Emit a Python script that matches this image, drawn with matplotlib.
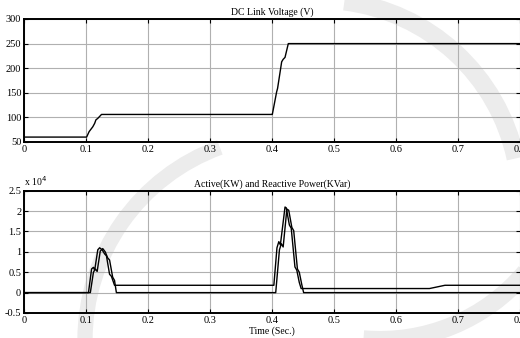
import numpy as np
import matplotlib
matplotlib.use("Agg")
import matplotlib.pyplot as plt
from matplotlib.patches import Arc

plt.rcParams['font.family'] = ['Liberation Serif', 'DejaVu Serif']

# ── data ────────────────────────────────────────────────────────────────────
# DC link voltage (V)
t_vdc = [0.0, 0.101, 0.105, 0.108, 0.111, 0.114, 0.116, 0.119, 0.125, 0.40,
         0.4005, 0.4075, 0.409, 0.4156, 0.418, 0.421, 0.4263, 0.8]
v_dc = [60, 60, 71, 76, 81, 88, 95, 98, 106, 106,
        106, 152, 159, 213, 218, 222, 250, 250]

# Active power (x 1e4)
t_p = [0.0, 0.104, 0.109, 0.112, 0.114, 0.119, 0.122, 0.126, 0.130, 0.133,
       0.138, 0.141, 0.146, 0.403, 0.408, 0.411, 0.4135, 0.421, 0.423, 0.428,
       0.431, 0.437, 0.440, 0.444, 0.447, 0.654, 0.679, 0.8]
p_act = [0.0, 0.0, 0.58, 0.62, 0.55, 1.05, 1.10, 1.05, 0.95, 0.90,
         0.45, 0.40, 0.18, 0.18, 1.10, 1.25, 1.17, 2.10, 2.08, 1.66,
         1.58, 0.63, 0.55, 0.25, 0.10, 0.10, 0.18, 0.18]

# Reactive power (x 1e4)
t_q = [0.0, 0.107, 0.112, 0.115, 0.118, 0.123, 0.127, 0.131, 0.135, 0.138,
       0.143, 0.146, 0.149, 0.406, 0.412, 0.415, 0.418, 0.424, 0.427, 0.432,
       0.435, 0.441, 0.444, 0.448, 0.451, 0.8]
p_react = [0.0, 0.0, 0.50, 0.58, 0.52, 1.02, 1.08, 1.00, 0.85, 0.80,
           0.38, 0.30, 0.0, 0.0, 1.05, 1.20, 1.12, 2.05, 2.02, 1.60,
           1.52, 0.58, 0.50, 0.20, 0.0, 0.0]

x_ticks = [0, 0.1, 0.2, 0.3, 0.4, 0.5, 0.6, 0.7, 0.8]
x_labels = ["0", "0.1", "0.2", "0.3", "0.4", "0.5", "0.6", "0.7", "0.8"]
vdc_ticks = [50, 100, 150, 200, 250, 300]
pq_ticks = [-0.5, 0, 0.5, 1, 1.5, 2, 2.5]
pq_labels = ["-0.5", "0", "0.5", "1", "1.5", "2", "2.5"]

W, H = 520, 338
fig = plt.figure(figsize=(W / 100, H / 100), dpi=100, facecolor="white")

# faint watermark swoosh from the scanned page
wm = fig.add_axes([0, 0, 1, 1], zorder=-5)
wm.set_xlim(0, W)
wm.set_ylim(H, 0)
wm.axis("off")
wm_col = "#ececec"
wm.add_patch(Arc((320, 200), 400, 400, theta1=-83, theta2=-12, lw=13, color=wm_col))
wm.add_patch(Arc((380, 150), 380, 380, theta1=40, theta2=95, lw=13, color=wm_col))
wm.add_patch(Arc((290, 340), 410, 410, theta1=180, theta2=250, lw=11, color=wm_col))


def style(ax):
    ax.set_xlim(0, 0.8)
    ax.set_xticks(x_ticks)
    ax.set_xticklabels(x_labels)
    ax.grid(True, color="#b0b0b0", linewidth=0.8)
    ax.tick_params(direction="in", length=3, width=0.8, labelsize=7.5,
                   top=True, right=True, pad=2)
    for s in ["top", "left", "bottom"]:
        ax.spines[s].set_linewidth(1.4)
    ax.spines["right"].set_visible(False)
    ax.set_facecolor("none")


ax1 = fig.add_axes([24 / W, 1 - 142 / H, 496 / W, 123 / H])
ax1.plot(t_vdc, v_dc, color="black", lw=1.0)
ax1.set_ylim(50, 300)
ax1.set_yticks(vdc_ticks)
style(ax1)
ax1.set_title("DC Link Voltage (V)", fontsize=7, pad=3)

ax2 = fig.add_axes([24 / W, 1 - 313 / H, 496 / W, 122.3 / H])
ax2.plot(t_p, p_act, color="black", lw=1.0)
ax2.plot(t_q, p_react, color="black", lw=1.0)
ax2.set_ylim(-0.5, 2.5)
ax2.set_yticks(pq_ticks)
ax2.set_yticklabels(pq_labels)
style(ax2)
ax2.set_title("Active(KW) and Reactive Power(KVar)", fontsize=7, pad=3)
ax2.set_xlabel("Time (Sec.)", fontsize=7, labelpad=1)
ax2.text(0.0, 1.02, r"x 10$^4$", transform=ax2.transAxes, fontsize=7,
         ha="left", va="bottom")

fig.savefig("out.png", dpi=100, facecolor="white")
